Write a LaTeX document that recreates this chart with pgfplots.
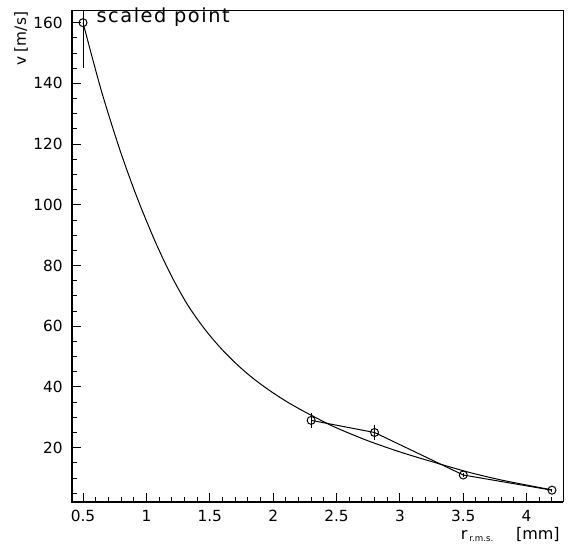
\documentclass[border=0pt]{standalone}
\usepackage{fontspec}
\setmainfont{DejaVu Sans}
\usepackage{pgfplots}
\pgfplotsset{compat=1.18}
\begin{document}
\begin{tikzpicture}
\begin{axis}[
 scale only axis, width=368.25pt, height=368.25pt,
 xmin=0.413, xmax=4.287, ymin=2.11, ymax=163.85,
 axis line style={line width=0.75pt},
 xtick={0.5,1,1.5,2,2.5,3,3.5,4},
 xticklabels={0.5,1,1.5,2,2.5,3,3.5,4},
 ytick={20,40,60,80,100,120,140,160},
 minor xtick={0.5,0.6,0.7,0.8,0.9,1.0,1.1,1.2,1.3,1.4,1.5,1.6,1.7,1.8,1.9,2.0,2.1,2.2,2.3,2.4,2.5,2.6,2.7,2.8,2.9,3.0,3.1,3.2,3.3,3.4,3.5,3.6,3.7,3.8,3.9,4.0,4.1,4.2},
 minor ytick={5,10,15,20,25,30,35,40,45,50,55,60,65,70,75,80,85,90,95,100,105,110,115,120,125,130,135,140,145,150,155,160},
 tick align=inside, xtick pos=bottom, ytick pos=left,
 major tick length=7pt, minor tick length=3.5pt,
 tick style={line width=0.75pt, black},
 /pgf/number format/assume math mode=true,
 ticklabel style={font=\fontsize{11.5}{13}\selectfont},
 xticklabel style={inner sep=0pt, yshift=-6pt},
 yticklabel style={inner sep=0pt, xshift=-6.75pt},
 clip=false,
]
\addplot[black, line width=0.75pt, smooth, no marks] coordinates {
 (0.50,160) (0.58,147.4) (0.66,135.4) (0.79,118.2) (0.92,103.1) (1.06,88.8)
 (1.19,77.2) (1.32,67.4) (1.45,59.6) (1.58,53.1) (1.71,47.6) (1.84,42.9)
 (1.98,38.6) (2.11,35.1) (2.21,32.7) (2.30,30.7) (2.48,26.9) (2.74,22.4)
 (3.00,18.6) (3.26,15.3) (3.50,12.4) (3.63,11.0) (3.84,9.0) (4.20,6.1)
};
\addplot[black, line width=0.75pt, mark=o, mark size=3pt, mark options={fill=white},
 error bars/.cd, y dir=both, y explicit, error mark=none,
 error bar style={line width=0.75pt}] coordinates {
 (2.3,29) +- (0,2.5)
 (2.8,25) +- (0,2.5)
 (3.5,11) +- (0,0.8)
 (4.2,6) +- (0,0.5)
};
\addplot[black, line width=0.75pt, only marks, mark=o, mark size=3pt, mark options={fill=white},
 error bars/.cd, y dir=both, y explicit, error mark=none,
 error bar style={line width=0.75pt}] coordinates {
 (0.5,160) += (0,3.85) -= (0,15)
};
\coordinate (sw) at (rel axis cs:0,0);
\coordinate (ne) at (rel axis cs:1,1);
\coordinate (nw) at (rel axis cs:0,1);
\coordinate (se) at (rel axis cs:1,0);
\coordinate (p1) at (axis cs:0.5,160);
\end{axis}
\draw[line width=1.5pt] (nw) -- (sw) -- (se);
\node[anchor=base west, inner sep=0pt, font=\fontsize{14.5}{16}\selectfont\addfontfeature{LetterSpace=8}] at ([xshift=10pt]p1) {scaled point};
\node[rotate=90, anchor=base, inner sep=0pt, font=\fontsize{11.5}{13}\selectfont] at ([xshift=-34.5pt,yshift=-21pt]nw) {v [m/s]};
\node[anchor=base east, inner sep=0pt, font=\fontsize{12}{14}\selectfont] at ([xshift=-2.25pt,yshift=-28.5pt]se) {r\hspace{1.5pt}\raisebox{-1pt}{\fontsize{6.5}{7}\selectfont r.m.s.}\hspace{17pt}[mm]};
\pgfresetboundingbox
\path[use as bounding box] ([xshift=-54pt,yshift=-35.25pt]sw) rectangle ([xshift=5.25pt,yshift=8.25pt]ne);
\end{tikzpicture}
\end{document}
